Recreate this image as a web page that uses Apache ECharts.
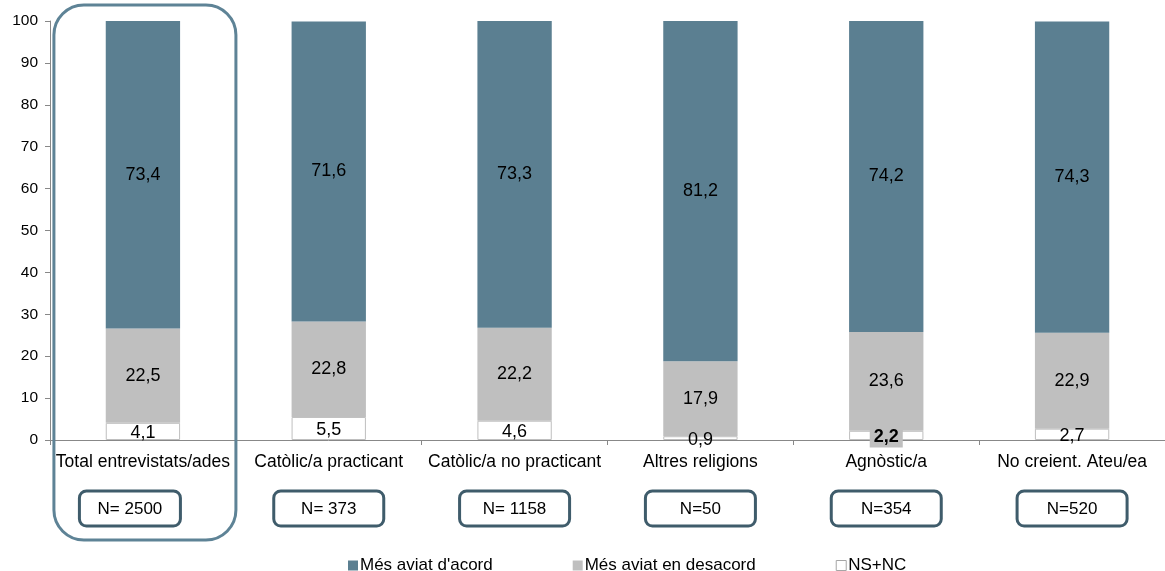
<!DOCTYPE html>
<html><head><meta charset="utf-8">
<script src="https://cdn.jsdelivr.net/npm/echarts@6/dist/echarts.min.js"></script>
<style>html,body{margin:0;padding:0;background:#fff}#c{width:1165px;height:571px}</style>
</head><body><div id="c"></div>
<script>
var categories = ["Total entrevistats/ades","Catòlic/a practicant","Catòlic/a no practicant","Altres religions","Agnòstic/a","No creient. Ateu/ea"];
var nsnc = [4.1, 5.5, 4.6, 0.9, 2.2, 2.7];
var desacord = [22.5, 22.8, 22.2, 17.9, 23.6, 22.9];
var acord = [73.4, 71.6, 73.3, 81.2, 74.2, 74.3];
var nLabels = ["N= 2500","N= 373","N= 1158","N=50","N=354","N=520"];
var yTicks = [0,10,20,30,40,50,60,70,80,90,100];

var F = "'Liberation Sans', Arial, sans-serif";
function fmt(p){ return String(p.value).replace('.', ','); }
var chart = echarts.init(document.getElementById('c'));
var nsData = nsnc.map(function(v,i){
  if (i === 4) return {value:v, label:{fontWeight:'bold', backgroundColor:'#BFBFBF', padding:[1,4,1,4]}};
  return v;
});
chart.setOption({
  animation:false,
  textStyle:{fontFamily:F},
  grid:{left:50, right:0, top:21, bottom:131, containLabel:false},
  legend:{left:343, top:552, itemWidth:10, itemHeight:10, itemGap:80, icon:'rect',
    textStyle:{fontSize:17, color:'#000', fontFamily:F, padding:[0,0,0,-3]},
    data:[{name:"Més aviat d'acord"},{name:'Més aviat en desacord'},{name:'NS+NC', itemStyle:{color:'#fff', borderColor:'#A6A6A6', borderWidth:1}}]},
  xAxis:{type:'category', data:categories,
    axisLine:{lineStyle:{color:'#888', width:1}},
    axisTick:{show:true, length:5, inside:false, lineStyle:{color:'#888'}},
    axisLabel:{fontSize:17.5, color:'#000', margin:13, interval:0, fontFamily:F}},
  yAxis:{type:'value', min:0, max:100, interval:10,
    axisLine:{show:true, lineStyle:{color:'#888'}},
    axisTick:{show:true, length:5, lineStyle:{color:'#888'}},
    splitLine:{show:false},
    axisLabel:{fontSize:15.5, color:'#000', margin:12, fontFamily:F,
      formatter:function(v){ return yTicks.indexOf(v) >= 0 ? String(v) : ''; }}},
  series:[
    {name:'NS+NC', type:'bar', stack:'s', barWidth:'40%', data:nsData,
      itemStyle:{color:'#fff', borderColor:'#BFBFBF', borderWidth:1},
      label:{show:true, position:'inside', offset:[0,2], fontSize:18, color:'#000', formatter:fmt, fontFamily:F}},
    {name:'Més aviat en desacord', type:'bar', stack:'s', data:desacord,
      itemStyle:{color:'#BFBFBF'},
      label:{show:true, position:'inside', fontSize:18, color:'#000', formatter:fmt, fontFamily:F}},
    {name:"Més aviat d'acord", type:'bar', stack:'s', data:acord,
      itemStyle:{color:'#5B7F91'},
      label:{show:true, position:'inside', fontSize:18, color:'#000', formatter:fmt, fontFamily:F}}
  ]
});
var els = [];
categories.forEach(function(c,i){
  var x = chart.convertToPixel({xAxisIndex:0}, c);
  var w = i === 0 ? 101 : 110;
  var cx = x - (i === 0 ? 13 : 0);
  els.push({type:'rect', shape:{x:cx-w/2, y:491, width:w, height:35, r:7},
    style:{fill:'#fff', stroke:'#3F5C6B', lineWidth:3}, z:10});
  els.push({type:'text', x:cx, y:509, style:{text:nLabels[i], fill:'#000', font:'17px '+F, align:'center', verticalAlign:'middle'}, z:11});
});
var x0 = chart.convertToPixel({xAxisIndex:0}, categories[0]);
els.push({type:'rect', shape:{x:x0-89, y:5, width:182, height:535, r:30},
  style:{fill:null, stroke:'#5E8396', lineWidth:3}, z:12});
chart.setOption({graphic:{elements:els}});
</script></body></html>
